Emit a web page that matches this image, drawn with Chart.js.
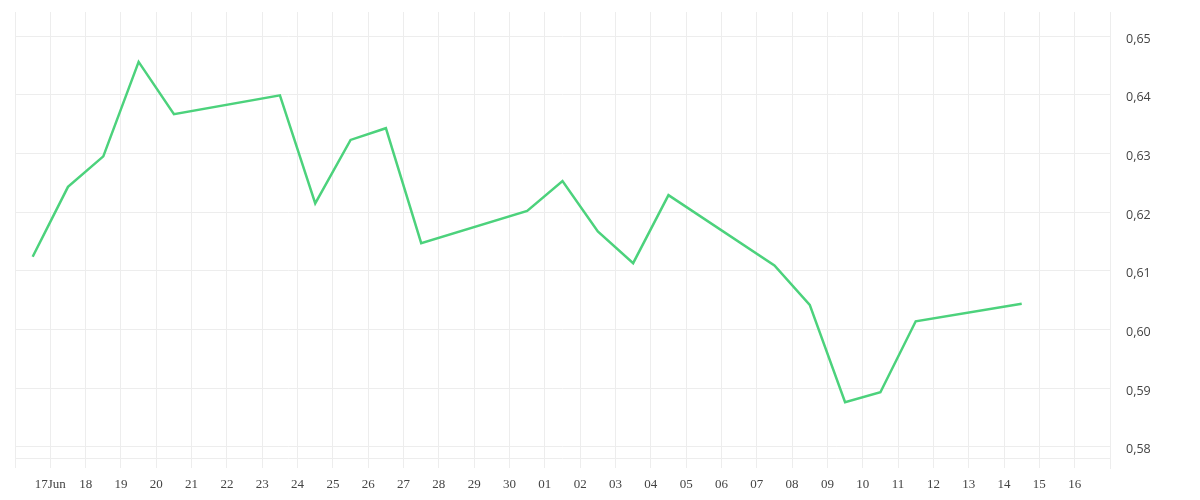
<!DOCTYPE html>
<html>
<head>
<meta charset="utf-8">
<script src="https://cdn.jsdelivr.net/npm/chart.js@4"></script>
<style>
    html, body { margin: 0; padding: 0; background: #fff; }
    #wrap { width: 1200px; height: 500px; }
</style>
</head>
<body>
<div id="wrap"><canvas id="priceChart"></canvas></div>
<script>
// dates (month-day) and closing values
const dates = [
    '06-16', '06-17', '06-18', '06-19', '06-20',
    '06-23', '06-24', '06-25', '06-26', '06-27',
    '06-30', '07-01', '07-02', '07-03', '07-04',
    '07-07', '07-08', '07-09', '07-10', '07-11',
    '07-14'
];
const values = [
    0.6124, 0.6243, 0.6295, 0.6456, 0.6367,
    0.6399, 0.6215, 0.6323, 0.6343, 0.6147,
    0.6202, 0.6253, 0.6167, 0.6113, 0.6229,
    0.6109, 0.6042, 0.5876, 0.5893, 0.6014,
    0.6044
];
const xTickLabels = [
    '', '17Jun', '18', '19', '20', '21', '22', '23', '24', '25', '26', '27', '28', '29', '30',
    '01', '02', '03', '04', '05', '06', '07', '08', '09', '10', '11', '12', '13', '14', '15', '16', ''
];
const yTickValues = [0.578, 0.58, 0.59, 0.60, 0.61, 0.62, 0.63, 0.64, 0.65];

const FIRST_DAY = 16; // x axis starts at 16 Jun

function dayIndex(md) {
    const [m, d] = md.split('-').map(Number);
    return m === 6 ? d : 30 + d;
}

const points = dates.map((md, i) => ({ x: dayIndex(md) + 0.5, y: values[i] }));

const gridColor = '#ededed';

new Chart(document.getElementById('priceChart').getContext('2d'), {
    type: 'line',
    data: {
        datasets: [{
            data: points,
            borderColor: '#4cd27c',
            borderWidth: 2.5,
            pointRadius: 0,
            tension: 0,
            fill: false
        }]
    },
    options: {
        responsive: true,
        maintainAspectRatio: false,
        animation: false,
        layout: { padding: { left: 15, top: 12, right: 0, bottom: 0 } },
        plugins: {
            legend: { display: false },
            tooltip: { enabled: false }
        },
        scales: {
            x: {
                type: 'linear',
                min: FIRST_DAY,
                max: FIRST_DAY + xTickLabels.length - 1,
                afterBuildTicks: scale => {
                    scale.ticks = xTickLabels.map((_, i) => ({ value: FIRST_DAY + i }));
                },
                afterFit: scale => {
                    scale.height = 32;
                    scale.paddingLeft = 0;
                    scale.paddingRight = 0;
                },
                grid: { color: gridColor, drawTicks: false },
                border: { display: false },
                ticks: {
                    autoSkip: false,
                    maxRotation: 0,
                    padding: 9,
                    color: '#444',
                    font: { family: "'Liberation Serif', serif", size: 13 },
                    callback: (v) => xTickLabels[Math.round(v) - FIRST_DAY]
                }
            },
            y: {
                position: 'right',
                min: 0.5764,
                max: 0.6541,
                afterBuildTicks: scale => {
                    scale.ticks = yTickValues.map(v => ({ value: v }));
                },
                afterFit: scale => {
                    scale.width = 90;
                    scale.paddingTop = 0;
                    scale.paddingBottom = 0;
                },
                grid: { color: gridColor, drawTicks: false },
                border: { display: true, color: gridColor },
                ticks: {
                    padding: 16,
                    labelOffset: 3,
                    crossAlign: 'near',
                    color: '#444',
                    font: { family: "'Open Sans', sans-serif", size: 12.5 },
                    callback: v => (Math.abs(v * 100 - Math.round(v * 100)) < 1e-6 ? v.toFixed(2).replace('.', ',') : '')
                }
            }
        }
    }
});
</script>
</body>
</html>
